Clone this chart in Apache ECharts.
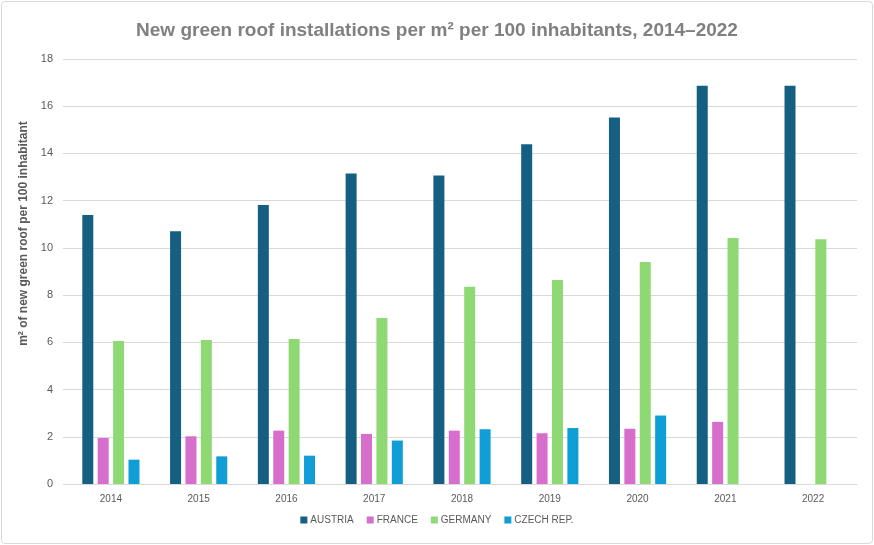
<!DOCTYPE html>
<html>
<head>
    <meta charset="UTF-8">
    <title>Green roof installations</title>
    <style>
        html, body {
            margin: 0;
            padding: 0;
            background: #fff;
        }

        #chart {
            position: absolute;
            left: 1px;
            top: 1px;
            width: 870px;
            height: 541px;
            border: 1px solid #d9d9d9;
            border-radius: 4px;
        }
    </style>
    <script src="https://cdn.jsdelivr.net/npm/echarts@6/dist/echarts.min.js"></script>
</head>
<body>
<div id="chart"></div>
<script>
    var years = ['2014', '2015', '2016', '2017', '2018', '2019', '2020', '2021', '2022'];
    var austria = [11.39, 10.71, 11.82, 13.15, 13.07, 14.39, 15.52, 16.87, 16.87];
    var france = [1.95, 2.02, 2.26, 2.12, 2.26, 2.15, 2.34, 2.63, null];
    var germany = [6.06, 6.10, 6.14, 7.03, 8.35, 8.64, 9.40, 10.42, 10.37];
    var czech = [1.03, 1.17, 1.20, 1.84, 2.32, 2.37, 2.90, null, null];

    var font = '"Liberation Sans Narrow", "Liberation Sans", sans-serif';

    function bar(name, data, color) {
        return {
            name: name,
            type: 'bar',
            data: data,
            barWidth: 11,
            barGap: '40%',
            itemStyle: {color: color}
        };
    }

    var chart = echarts.init(document.getElementById('chart'), null, {renderer: 'canvas'});
    chart.setOption({
        animation: false,
        title: {
            text: 'New green roof installations per m² per 100 inhabitants, 2014–2022',
            left: 'center',
            top: 14,
            textStyle: {
                fontFamily: font,
                fontSize: 19,
                fontWeight: 'bold',
                color: '#808080'
            }
        },
        legend: {
            bottom: 13,
            left: 'center',
            itemWidth: 7,
            itemHeight: 7,
            itemGap: 13,
            icon: 'rect',
            textStyle: {fontFamily: font, fontSize: 10, color: '#595959', padding: [0, 0, 0, -2]},
            data: ['AUSTRIA', 'FRANCE', 'GERMANY', 'CZECH REP.']
        },
        grid: {left: 65, right: 15, top: 57, bottom: 59},
        xAxis: {
            type: 'category',
            data: years,
            axisLine: {lineStyle: {color: '#d9d9d9'}},
            axisTick: {length: 5, lineStyle: {color: '#d9d9d9'}},
            axisLabel: {fontFamily: font, fontSize: 10, color: '#595959', margin: 10}
        },
        yAxis: {
            type: 'value',
            min: 0,
            max: 18,
            interval: 2,
            name: 'm² of new green roof per 100 inhabitant',
            nameLocation: 'middle',
            nameGap: 36,
            nameTextStyle: {
                fontFamily: font,
                fontSize: 12,
                fontWeight: 'bold',
                color: '#595959',
                padding: [0, 0, 0, 76]
            },
            axisLine: {show: false},
            axisTick: {show: true, length: 4, lineStyle: {color: '#d9d9d9'}},
            axisLabel: {fontFamily: font, fontSize: 11, color: '#595959', margin: 14},
            splitLine: {lineStyle: {color: '#d9d9d9'}}
        },
        series: [
            bar('AUSTRIA', austria, '#156082'),
            bar('FRANCE', france, '#d86ecc'),
            bar('GERMANY', germany, '#8ed973'),
            bar('CZECH REP.', czech, '#0f9ed5')
        ]
    });
</script>
</body>
</html>
